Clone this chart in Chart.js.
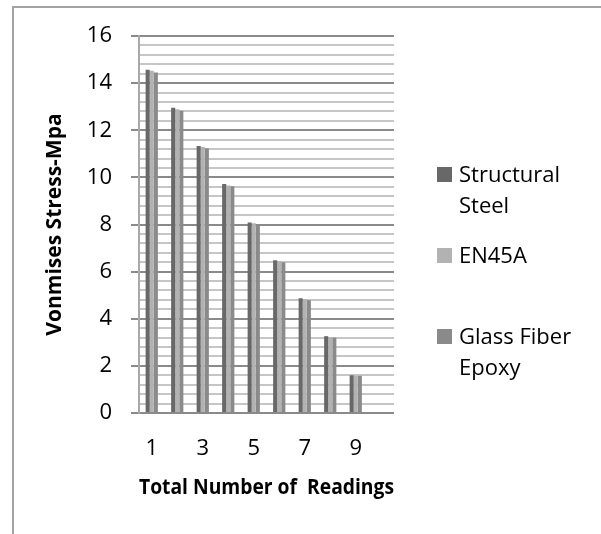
<!DOCTYPE html>
<html>
<head>
<meta charset="utf-8">
<script src="https://cdn.jsdelivr.net/npm/chart.js@4.4.1/dist/chart.umd.min.js"></script>
<style>
  body { margin: 0; background: #ffffff; }
  #wrap { position: relative; width: 601px; height: 534px; overflow: hidden; font-family: 'Open Sans', sans-serif; }
  #frame { position: absolute; left: 12px; top: 6px; right: -10px; bottom: -10px;
           border-top: 2px solid #a3a3a3; border-left: 2px solid #a3a3a3; }
  #legend { position: absolute; left: 437px; top: 0; }
  .item { position: absolute; left: 0; white-space: nowrap; font-size: 22px; line-height: 31px; color: #000; }
  .box { position: absolute; left: 0; width: 15px; height: 15px; }
  .txt { position: absolute; left: 22px; }
</style>
</head>
<body>
<div id="wrap">
  <div id="frame"></div>
  <canvas id="stressChart"></canvas>
  <div id="legend"></div>
</div>
<script>
// Vonmises stress (MPa) per reading. Reading 10 is an empty slot.
const readings = ['1','2','3','4','5','6','7','8','9','10'];

const structuralSteel = [14.57, 12.96, 11.33, 9.72, 8.09, 6.48, 4.87, 3.26, 1.60, null];
const en45a           = [14.52, 12.89, 11.29, 9.66, 8.05, 6.44, 4.83, 3.22, 1.59, null];
const glassFiberEpoxy = [14.45, 12.83, 11.24, 9.62, 8.02, 6.40, 4.79, 3.20, 1.58, null];

const seriesNames = [['Structural', 'Steel'], ['EN45A'], ['Glass Fiber', 'Epoxy']];
const seriesColors = ['#686868', '#b2b2b2', '#8a8a8a'];

const ctx = document.getElementById('stressChart').getContext('2d');

new Chart(ctx, {
  type: 'bar',
  data: {
    labels: readings,
    datasets: [
      { label: seriesNames[0].join(' '), data: structuralSteel, backgroundColor: seriesColors[0] },
      { label: seriesNames[1].join(' '), data: en45a,           backgroundColor: seriesColors[1] },
      { label: seriesNames[2].join(' '), data: glassFiberEpoxy, backgroundColor: seriesColors[2] }
    ]
  },
  options: {
    responsive: true,
    maintainAspectRatio: false,
    animation: false,
    datasets: { bar: { categoryPercentage: 0.48, barPercentage: 1.0 } },
    layout: { padding: { left: 0, right: 207, top: 36, bottom: 0 } },
    plugins: {
      legend: { display: false },
      tooltip: { enabled: false }
    },
    scales: {
      x: {
        grid: { display: false },
        border: { display: false },
        ticks: {
          color: '#000000',
          font: { family: 'Open Sans', size: 22 },
          padding: 15,
          autoSkip: false,
          maxRotation: 0,
          // only the odd readings get a label, like the original
          callback: function(value, index) { return index % 2 === 0 ? readings[index] : ''; }
        },
        title: {
          display: true,
          text: 'Total Number of  Readings',
          color: '#000000',
          font: { family: 'Open Sans', size: 22, weight: 'bold' },
          padding: { top: 0, bottom: 33 }
        },
        afterFit: function(scale) { scale.height = 121; }
      },
      y: {
        position: 'left',
        min: 0,
        max: 16,
        ticks: {
          stepSize: 2,
          color: '#000000',
          font: { family: 'Open Sans', size: 22 },
          padding: 19
        },
        grid: { color: '#8a8a8a', lineWidth: 2, tickLength: 8 },
        border: { display: true, color: '#a8a8a8', width: 2 },
        title: {
          display: true,
          text: 'Vonmises Stress-Mpa',
          color: '#000000',
          font: { family: 'Open Sans', size: 21, weight: 'bold' },
          padding: { top: 42, bottom: 0 }
        },
        afterFit: function(scale) { scale.width = 139; }
      },
      yMinor: {                  // light minor gridlines every 0.4
        position: 'right',
        min: 0,
        max: 16,
        ticks: { display: false, stepSize: 0.4 },
        grid: {
          drawTicks: false,
          lineWidth: 2,
          color: function(c) {
            return Math.round(c.tick.value * 10) % 20 === 0 ? 'rgba(0,0,0,0)' : '#c6c6c6';
          }
        },
        border: { display: false },
        afterFit: function(scale) { scale.width = 0; }
      }
    }
  }
});

// legend on the right, with the wrapped names of the original
const legendTops = [158, 239, 320];
const legend = document.getElementById('legend');
seriesNames.forEach(function(lines, i) {
  const item = document.createElement('div');
  item.className = 'item';
  item.style.top = legendTops[i] + 'px';
  const box = document.createElement('div');
  box.className = 'box';
  box.style.top = '9px';
  box.style.background = seriesColors[i];
  const txt = document.createElement('div');
  txt.className = 'txt';
  txt.innerHTML = lines.join('<br>');
  item.appendChild(box);
  item.appendChild(txt);
  legend.appendChild(item);
});
</script>
</body>
</html>
